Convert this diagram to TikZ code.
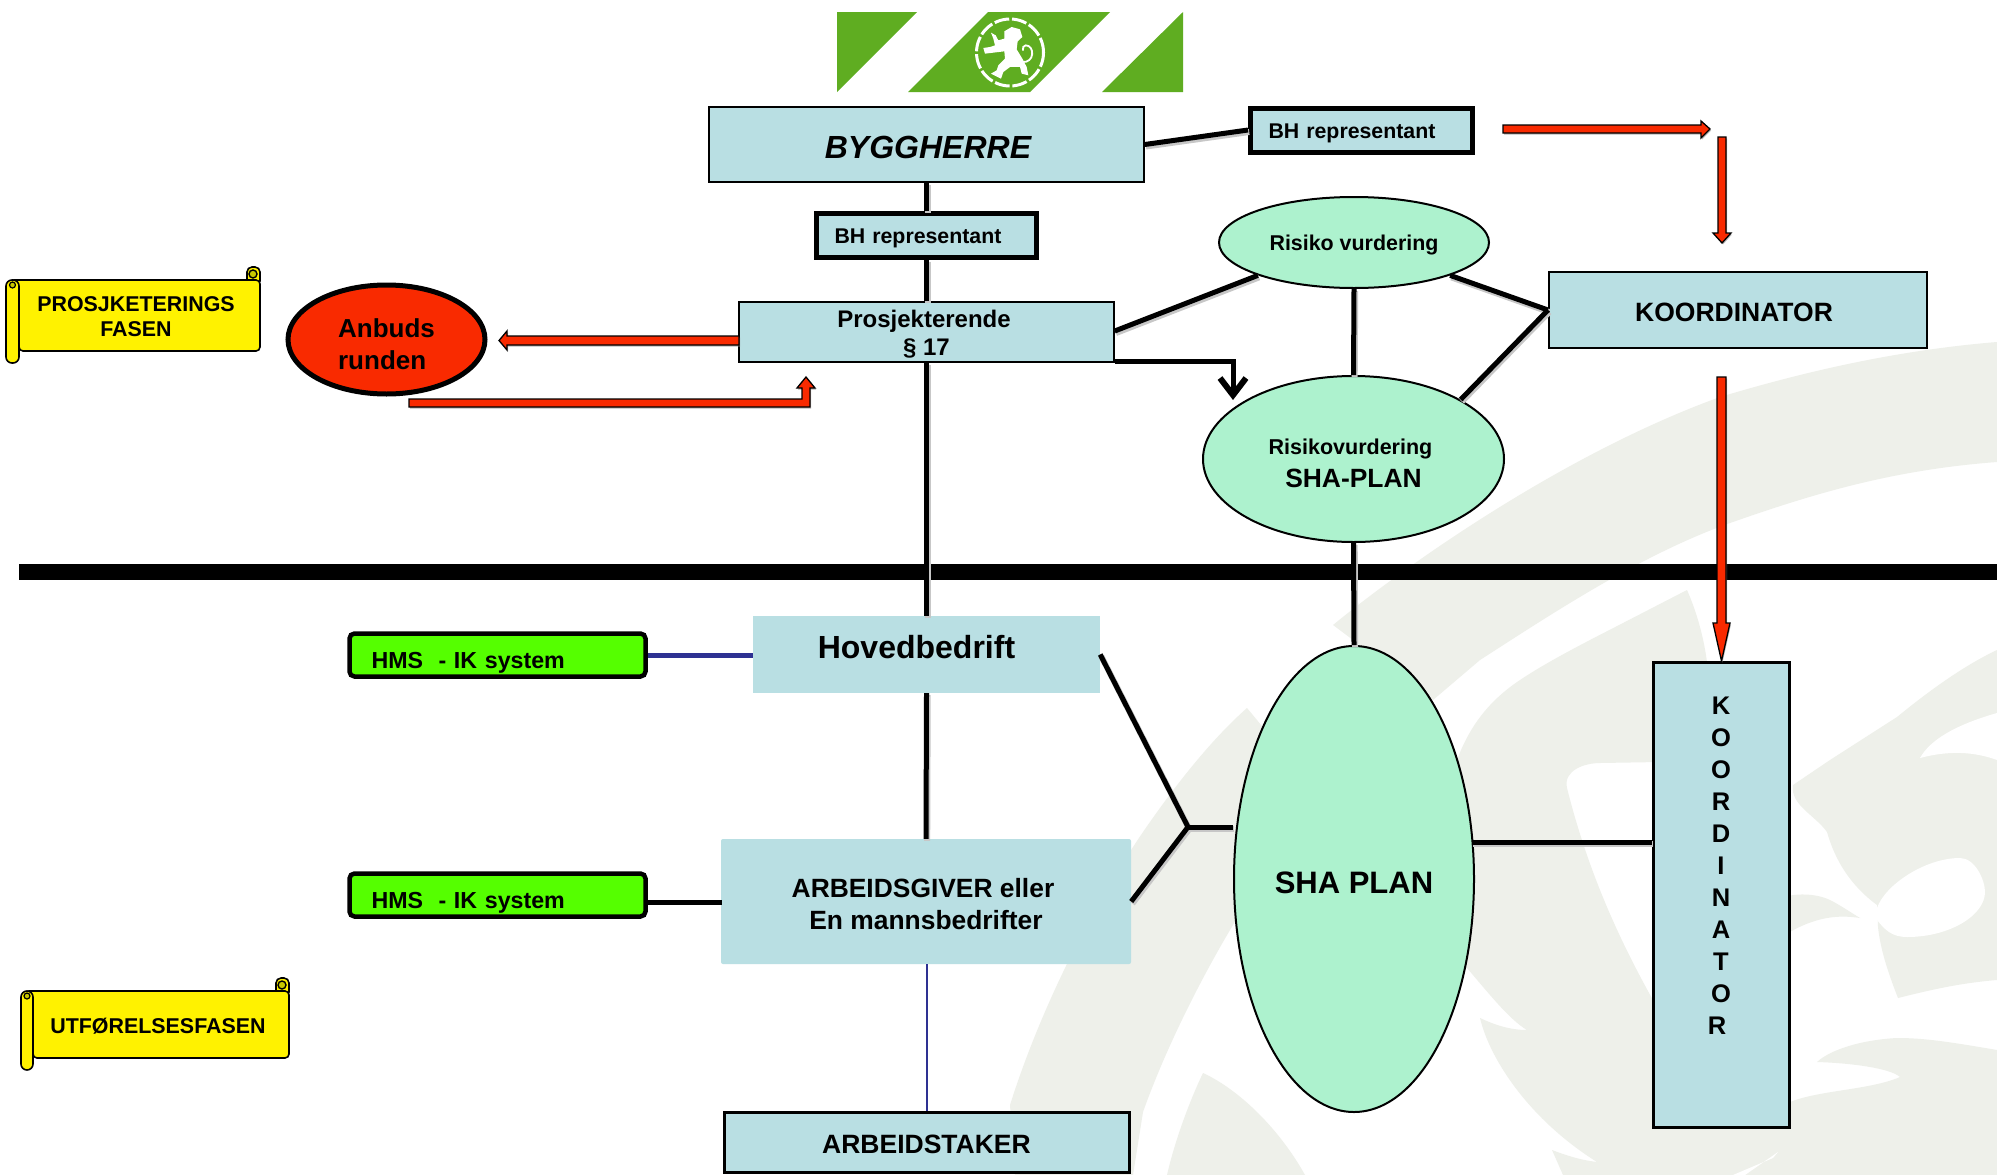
\documentclass[tikz,border=0pt]{standalone}
\usepackage{fontspec}
\setmainfont{Liberation Sans}
\usetikzlibrary{arrows.meta,shapes.geometric,shadows}
\definecolor{boxc}{HTML}{B9DFE3}
\definecolor{ellc}{HTML}{ADF2CE}
\definecolor{redc}{HTML}{F92A00}
\definecolor{greenc}{HTML}{55FF00}
\definecolor{logoc}{HTML}{5FAD21}
\definecolor{markc}{HTML}{EEF0EA}
\definecolor{bluec}{HTML}{2E3192}
\definecolor{curlc}{HTML}{C8C800}
\newcommand{\tstrut}[1]{\rule{0pt}{#1pt}}
\newcommand{\rpad}[1]{\rule{#1pt}{0pt}}
\tikzset{
  fs/.style 2 args={font=\fontsize{#1}{#2}\selectfont\bfseries},
  box/.style={rectangle,fill=boxc,draw=black,line width=1.5pt,inner sep=0pt,align=center},
  plainbox/.style={rectangle,fill=boxc,inner sep=0pt,align=center},
  bhbox/.style={rectangle,fill=boxc,draw=black,line width=5pt,inner ysep=0pt,inner xsep=18pt,align=left,fs={21.3pt}{26pt}},
  hmsbox/.style={rectangle,rounded corners=5pt,fill=greenc,draw=black,line width=4.5pt,inner ysep=0pt,inner xsep=22pt,
     text width=252pt,minimum width=296pt,minimum height=43pt,align=left,fs={23.2pt}{28pt}},
  oval/.style={ellipse,fill=ellc,draw=black,line width=2pt,inner sep=0pt,align=center},
  conn/.style={line width=5pt,draw=black,preaction={draw=black!22,line width=6pt,transform canvas={shift={(1.2pt,-2pt)}}}},
  redarrow/.style={fill=redc,draw=black,line width=1.3pt,line join=miter,drop shadow={shadow xshift=1pt,shadow yshift=-1.5pt,fill=black!45,opacity=.6}},
  scrollbody/.style={fill=yellow,draw=black,line width=1.6pt},
  wm/.style={fill=markc,draw=none},
  wmwhite/.style={fill=white,draw=none}
}
% x0 rollright right top bottom rollbottom curlx curly
\newcommand{\scrollbanner}[8]{%
  \draw[scrollbody,rounded corners=5pt] ({#3-13},{#4+6}) -- ({#3-13},{#8-7}) -- (#3,{#8-7}) -- (#3,{#4+6}) -- cycle;
  \fill[curlc,draw=black,line width=1.4pt] ({#3-7},#8) circle (4pt);
  \draw[scrollbody,rounded corners=4pt] ({#1+4},#4) -- (#3,#4) -- (#3,#5) -- (#2,#5) -- (#2,{#4+8}) -- ({#1+4},{#4+8}) -- cycle;
  \draw[scrollbody,rounded corners=6pt] (#1,#4) -- (#2,#4) -- (#2,#6) -- (#1,#6) -- cycle;
  \fill[curlc,draw=black,line width=1.2pt] ({(#1+#2)/2},{#4+5}) circle (3pt);
}
\begin{document}
\begin{tikzpicture}[x=1pt,y=-1pt]
\useasboundingbox (0,0) rectangle (1997,1175);
\fill[white] (0,0) rectangle (1997,1175);

% --- watermark ---
\fill[wm] (1333,625) .. controls (1400,570) and (1560,455) .. (1720,397)
   .. controls (1810,370) and (1900,350) .. (1997,342) -- (1997,462)
   .. controls (1890,470) and (1810,495) .. (1730,523)
   .. controls (1640,555) and (1550,615) .. (1480,660) -- (1433,700) -- cycle;
\fill[wm] (1687,590) -- (1623,623) .. controls (1590,640) and (1550,660) .. (1520,680)
   .. controls (1490,700) and (1470,725) .. (1457,760) -- (1440,960) -- (1467,968)
   .. controls (1490,995) and (1510,1020) .. (1527,1030) .. controls (1510,1030) and (1495,1025) .. (1480,1018)
   .. controls (1490,1060) and (1530,1120) .. (1597,1162) .. controls (1580,1160) and (1565,1155) .. (1552,1150)
   -- (1563,1175) -- (1997,1175) -- (1997,1050) .. controls (1950,1042) and (1925,1038) .. (1897,1038)
   .. controls (1860,1040) and (1830,1050) .. (1817,1062) .. controls (1850,1063) and (1890,1068) .. (1900,1077)
   .. controls (1870,1090) and (1820,1090) .. (1790,1102) -- (1700,1100) -- (1654,1002)
   .. controls (1625,950) and (1590,880) .. (1567,788) .. controls (1563,770) and (1585,763) .. (1600,763)
   -- (1660,762) -- (1707,662) .. controls (1704,640) and (1698,615) .. (1687,590) -- cycle;
\fill[wm] (1247,708) -- (1290,760) -- (1250,895) -- (1233,925) .. controls (1200,980) and (1165,1050) .. (1143,1112)
   -- (1133,1175) -- (1015,1175) -- (1010,1105) .. controls (1040,1010) and (1090,910) .. (1143,832)
   .. controls (1165,800) and (1205,745) .. (1247,708) -- cycle;
\fill[wm] (1203,1073) .. controls (1240,1090) and (1280,1130) .. (1305,1175) -- (1167,1175) .. controls (1175,1140) and (1190,1100) .. (1203,1073) -- cycle;
\fill[wm] (1793,785) -- (1830,760) -- (1897,717) .. controls (1930,690) and (1965,665) .. (1997,650) -- (1997,980)
   .. controls (1960,983) and (1930,990) .. (1898,998) .. controls (1885,965) and (1880,945) .. (1878,927)
   -- (1877,905) .. controls (1850,885) and (1835,860) .. (1827,832) .. controls (1815,815) and (1790,805) .. (1793,785) -- cycle;
\fill[wmwhite] (1877,908) .. controls (1885,885) and (1925,858) .. (1960,858)
   .. controls (1975,858) and (1985,880) .. (1985,892) .. controls (1985,915) and (1950,937) .. (1907,937)
   .. controls (1892,937) and (1885,930) .. (1877,920) -- cycle;
\fill[wmwhite] (1997,713) .. controls (1955,725) and (1930,740) .. (1920,758) .. controls (1950,750) and (1975,752) .. (1997,760) -- cycle;
\fill[wm] (1780,898) .. controls (1795,893) and (1815,893) .. (1830,900) .. controls (1840,905) and (1850,912) .. (1860,918)
   .. controls (1840,915) and (1815,915) .. (1780,938) -- cycle;
\fill[wmwhite] (1733,1175) -- (1773,1158) -- (1778,1152) -- (1745,1175) -- cycle;

% --- logo ---
\fill[logoc] (837,12) -- (917,12) -- (837,92) -- cycle;
\fill[logoc] (988,12) -- (1110,12) -- (1030,92) -- (908,92) -- cycle;
\fill[logoc] (1183,12) -- (1183,92) -- (1102,92) -- cycle;
\draw[white,line width=3pt,dash pattern=on 15pt off 2.8pt] (1010,52.5) circle (33.5pt);
\begin{scope}[shift={(965,12)},x=.3333pt,y=-.3333pt]
  \fill[white] (118,58) -- (140,45) -- (165,52) -- (172,75) -- (158,88) -- (155,112) -- (172,140) -- (185,165) -- (190,190)
     -- (170,185) -- (165,165) -- (135,165) -- (115,180) -- (108,200) -- (78,185) -- (95,175) -- (100,160) -- (120,140)
     -- (118,118) -- (85,122) -- (60,125) -- (55,108) -- (75,105) -- (90,100) -- (85,80) -- (78,62) -- (92,70) -- (100,85) -- (118,80) -- cycle;
  \draw[white,line width=1.8pt] (170,150) .. controls (210,155) and (210,100) .. (182,100) .. controls (175,100) and (172,108) .. (174,116);
\end{scope}

% --- heavy divider ---
\coordinate (barL) at (19,572);
\coordinate (barR) at (1997,572);
\draw[line width=16pt] (barL) -- (barR);

% --- nodes ---
\node[box,fs={32pt}{38pt},minimum width=435pt,minimum height=75pt] (bygg) at (926.5,144.5) {\tstrut{28.4}\itshape BYGGHERRE\hspace*{-3pt}};
\node[bhbox,minimum width=222pt,minimum height=44pt,text width=186pt] (bhtop) at (1361.5,130) {\tstrut{20.5}BH representant};
\node[bhbox,minimum width=220pt,minimum height=44pt,text width=184pt] (bhmid) at (926.5,235) {\tstrut{20.5}BH representant};
\node[box,fs={24pt}{28pt},minimum width=375pt,minimum height=60pt] (prosj) at (926.5,332) {\tstrut{22.5}Prosjekterende\rpad{5}\\§ 17};
\node[box,fs={26.5pt}{30pt},line width=2pt,minimum width=378pt,minimum height=76pt] (koord) at (1738,310) {\tstrut{22.4}KOORDINATOR\rpad{8}};
\node[ellipse,fill=redc,draw=black,line width=5pt,inner sep=0pt,align=left,fs={26pt}{32pt},minimum width=197pt,minimum height=109pt] (anbud) at (386.5,339.5) {\tstrut{29}Anbuds\\runden};
\node[oval,fs={21.4pt}{26pt},minimum width=270pt,minimum height=91pt] (risk) at (1354,242.5) {\tstrut{20.6}Risiko vurdering};
\node[oval,fs={26.4pt}{32.5pt},minimum width=301pt,minimum height=166pt] (riskplan) at (1353.5,459) {\tstrut{24}\fontsize{21.5pt}{32.5pt}\selectfont Risikovurdering\rpad{6}\\\fontsize{26.4pt}{32.5pt}\selectfont SHA-PLAN};
\node[plainbox,fs={32pt}{36pt},text depth=15pt,minimum width=347pt,minimum height=77pt] (hoved) at (926.5,654.5) {Hovedbedrift\rpad{20}};
\node[plainbox,rounded corners=2pt,fs={26.4pt}{32pt},minimum width=410pt,minimum height=125pt] (arbeid) at (926,901.5) {\tstrut{24.3}ARBEIDSGIVER eller\rpad{6}\\En mannsbedrifter};
\node[box,line width=3pt,fs={26.5pt}{30pt},minimum width=405pt,minimum height=60pt] (stake) at (926.5,1142) {\tstrut{22.4}ARBEIDSTAKER};
\node[oval,fs={31pt}{36pt},minimum width=240pt,minimum height=466pt] (sha) at (1354,879) {\tstrut{30.2}SHA PLAN};
\node[box,line width=3pt,minimum width=136pt,minimum height=465pt] (koordv) at (1721,894.5) {};
\node[align=center,inner sep=0pt,fs={25.5pt}{32pt}] (koordtxt) at (1721,865.5) {K\\O\\O\\R\\D\\I\\N\\A\\T\\O\\R\rpad{8}};
\node[hmsbox] (hms1) at (497.5,655) {\tstrut{32}HMS\ \ - IK system};
\node[hmsbox] (hms2) at (497.5,895) {\tstrut{32}HMS\ \ - IK system};

% --- scrolls ---
\scrollbanner{6}{19}{260}{280}{351}{363}{253}{274}
\node[align=center,inner sep=0pt,fs={21.4pt}{25pt}] (lab1) at (136,317) {PROSJKETERINGS\\FASEN};
\scrollbanner{21}{33}{289}{991}{1058}{1070}{283}{985}
\node[align=center,inner sep=0pt,fs={21.4pt}{25pt}] (lab2) at (158,1026) {UTFØRELSESFASEN};

% --- connectors ---
\draw[conn] (bygg.south) -- (bhmid.north);
\draw[conn] (bhmid.south) -- (prosj.north);
\draw[conn] (prosj.south) -- (hoved.north);
\draw[conn] (hoved.south) -- (arbeid.north);
\draw[conn] (bygg.east) -- (bhtop.west);
\draw[conn] (prosj.east) ++(0,-1) -- (risk.south west);
\draw[conn] (risk.south east) -- (koord.west);
\draw[conn] (risk.south) -- (riskplan.north);
\draw[conn] (riskplan.north east) -- (koord.west);
\draw[conn] (riskplan.south) -- (sha.north);
\coordinate (arrowend) at (1233,400);
\draw[line width=5pt,-{Straight Barb[length=17pt,width=26pt,line width=6pt]}] (prosj.south east) ++(0,-1) -| (arrowend);
\coordinate (junction) at (1188,827);
\draw[conn] (hoved.east) -- (junction);
\draw[conn] (arbeid.east) -- (junction);
\draw[conn] (junction) -- (junction -| sha.west);
\coordinate (shaout) at (1472,842);
\draw[conn] (shaout) -- (shaout -| koordv.west);
\draw[line width=5pt,bluec] (hms1.east) -- (hms1.east -| hoved.west);
\draw[line width=5pt] (hms2.east) ++(0,7) -- ++(74,0);
\draw[line width=2pt,bluec] (arbeid.south) ++(0.5,0) -- (stake.north);

% --- red block arrows ---
\draw[redarrow] (739,336) -- (507,336) -- (507,331) -- (499,340.5) -- (507,350) -- (507,345) -- (739,345) -- cycle;
\draw[redarrow] (409,399) -- (802,399) -- (802,388) -- (797,388) -- (806,377) -- (815,388) -- (810,388) -- (810,407) -- (409,407) -- cycle;
\draw[redarrow] (1503,125) -- (1701,125) -- (1701,121) -- (1710,129) -- (1701,138) -- (1701,133) -- (1503,133) -- cycle;
\draw[redarrow] (1718,137) -- (1726,137) -- (1726,233) -- (1731,233) -- (1722,243) -- (1713,233) -- (1718,233) -- cycle;
\draw[redarrow] (1717,377) -- (1726,377) -- (1726,623) -- (1730,623) -- (1721.5,661) -- (1713,623) -- (1717,623) -- cycle;
\end{tikzpicture}
\end{document}
